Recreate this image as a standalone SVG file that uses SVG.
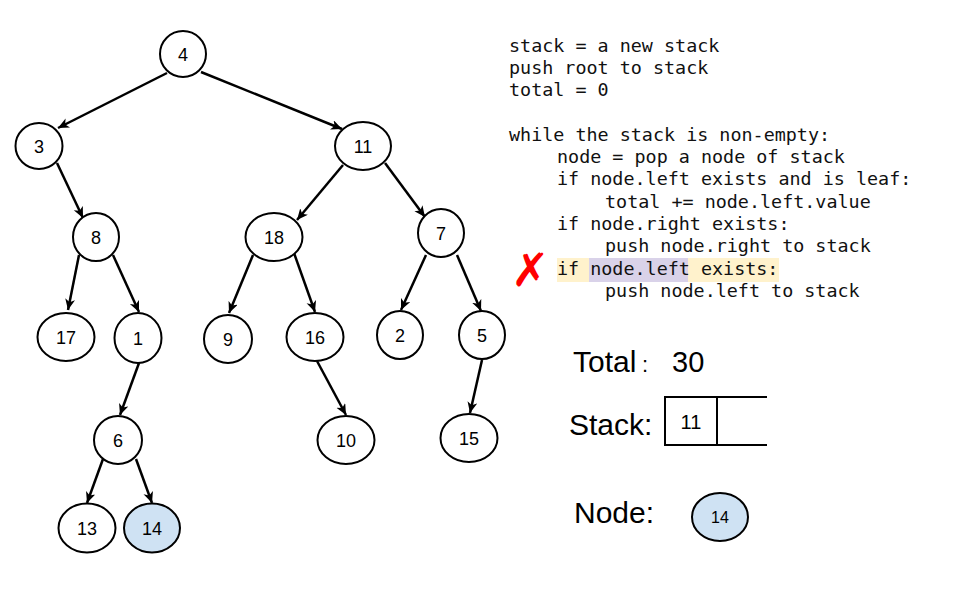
<svg xmlns="http://www.w3.org/2000/svg" width="960" height="600" viewBox="0 0 960 600">
<style>
.node ellipse{fill:#fff;stroke:#000;stroke-width:2}
.node.cur ellipse{fill:#cfe2f3}
.node text{font-family:"Liberation Sans",Arial,sans-serif;font-size:18px;text-anchor:middle;fill:#000}
.edges line{stroke:#000;stroke-width:2.5;marker-end:url(#arr)}
.code{font-family:"DejaVu Sans Mono",monospace;font-size:18.4px;fill:#111}
.lbl{font-family:"Liberation Sans",Arial,sans-serif;fill:#000}
</style>
<defs>
<marker id="arr" markerUnits="userSpaceOnUse" markerWidth="12" markerHeight="11" refX="11" refY="5" orient="auto">
<path d="M0,0 L11,5 L0,10 L3,5 z" fill="#000"/>
</marker>
</defs>
<rect width="960" height="600" fill="#fff"/>
<g class="edges">
<line x1="167" y1="73" x2="58" y2="128"/>
<line x1="201" y1="72" x2="342" y2="129"/>
<line x1="57" y1="163" x2="83" y2="218"/>
<line x1="343" y1="165" x2="297" y2="220"/>
<line x1="385" y1="163" x2="425" y2="217"/>
<line x1="79" y1="255" x2="68" y2="310"/>
<line x1="113" y1="255" x2="139" y2="312"/>
<line x1="253" y1="255" x2="229" y2="313"/>
<line x1="294" y1="253" x2="315" y2="312"/>
<line x1="426" y1="255" x2="401" y2="310"/>
<line x1="457" y1="255" x2="481" y2="311"/>
<line x1="139" y1="363" x2="120" y2="415"/>
<line x1="317" y1="361" x2="346" y2="415"/>
<line x1="482" y1="360" x2="470" y2="413"/>
<line x1="103" y1="459" x2="87" y2="503"/>
<line x1="136" y1="459" x2="152" y2="503"/>
</g>
<g id="n4" class="node"><ellipse cx="183" cy="54" rx="23" ry="23"/><text x="183" y="60.5">4</text></g>
<g id="n3" class="node"><ellipse cx="39" cy="146" rx="23.5" ry="23"/><text x="39" y="152.5">3</text></g>
<g id="n11" class="node"><ellipse cx="363" cy="146" rx="28" ry="24"/><text x="363" y="152.5">11</text></g>
<g id="n8" class="node"><ellipse cx="96" cy="237" rx="23" ry="24"/><text x="96" y="243.5">8</text></g>
<g id="n18" class="node"><ellipse cx="274" cy="237" rx="28.5" ry="24"/><text x="274" y="243.5">18</text></g>
<g id="n7" class="node"><ellipse cx="441" cy="233" rx="23" ry="24"/><text x="441" y="239.5">7</text></g>
<g id="n17" class="node"><ellipse cx="66" cy="337" rx="28.5" ry="24"/><text x="66" y="343.5">17</text></g>
<g id="n1" class="node"><ellipse cx="138" cy="338" rx="23.5" ry="25"/><text x="138" y="344.5">1</text></g>
<g id="n9" class="node"><ellipse cx="228" cy="339" rx="24" ry="24"/><text x="228" y="345.5">9</text></g>
<g id="n16" class="node"><ellipse cx="315" cy="337" rx="28.5" ry="24"/><text x="315" y="343.5">16</text></g>
<g id="n2" class="node"><ellipse cx="400" cy="335" rx="23" ry="24"/><text x="400" y="341.5">2</text></g>
<g id="n5" class="node"><ellipse cx="482" cy="335" rx="23" ry="24"/><text x="482" y="341.5">5</text></g>
<g id="n6" class="node"><ellipse cx="118" cy="440" rx="24" ry="24"/><text x="118" y="446.5">6</text></g>
<g id="n10" class="node"><ellipse cx="346" cy="440" rx="28.5" ry="24"/><text x="346" y="446.5">10</text></g>
<g id="n15" class="node"><ellipse cx="469" cy="438" rx="28.5" ry="24"/><text x="469" y="444.5">15</text></g>
<g id="n13" class="node"><ellipse cx="87" cy="528" rx="28.5" ry="24.5"/><text x="87" y="534.5">13</text></g>
<g id="n14" class="node cur"><ellipse cx="152" cy="528" rx="28" ry="24.5"/><text x="152" y="534.5">14</text></g>

<g id="code">
<rect x="557" y="258" width="222" height="24" fill="#fff2cc"/>
<rect x="589" y="258" width="99" height="24" fill="#d9d2e9"/>
<text class="code" x="509" y="52">stack = a new stack</text>
<text class="code" x="509" y="74">push root to stack</text>
<text class="code" x="509" y="96">total = 0</text>
<text class="code" x="509" y="141">while the stack is non-empty:</text>
<text class="code" x="557" y="163">node = pop a node of stack</text>
<text class="code" x="557" y="185">if node.left exists and is leaf:</text>
<text class="code" x="605" y="208">total += node.left.value</text>
<text class="code" x="557" y="230">if node.right exists:</text>
<text class="code" x="605" y="252">push node.right to stack</text>
<text class="code" x="557" y="275">if node.left exists:</text>
<text class="code" x="605" y="297">push node.left to stack</text>
<text x="511" y="286" font-family="DejaVu Sans,sans-serif" font-size="46" font-weight="bold" fill="#ff0000">✗</text>
</g>

<g id="total">
<text class="lbl" x="573" y="372" font-size="30">Total</text>
<text class="lbl" x="642" y="372" font-size="22">:</text>
<text class="lbl" x="672" y="372" font-size="29">30</text>
</g>
<g id="stack">
<text class="lbl" x="569" y="435" font-size="30">Stack:</text>
<path d="M767,397 H665 V445 H767 M717,397 V445" fill="none" stroke="#000" stroke-width="2"/>
<text class="lbl" x="691" y="429" font-size="20" text-anchor="middle">11</text>
</g>
<g id="nodecur">
<text class="lbl" x="574" y="523" font-size="30">Node:</text>
<g id="n14cur" class="node cur"><ellipse cx="720" cy="517" rx="28" ry="24"/><text x="720" y="523" style="font-size:16px">14</text></g>
</g>
</svg>
